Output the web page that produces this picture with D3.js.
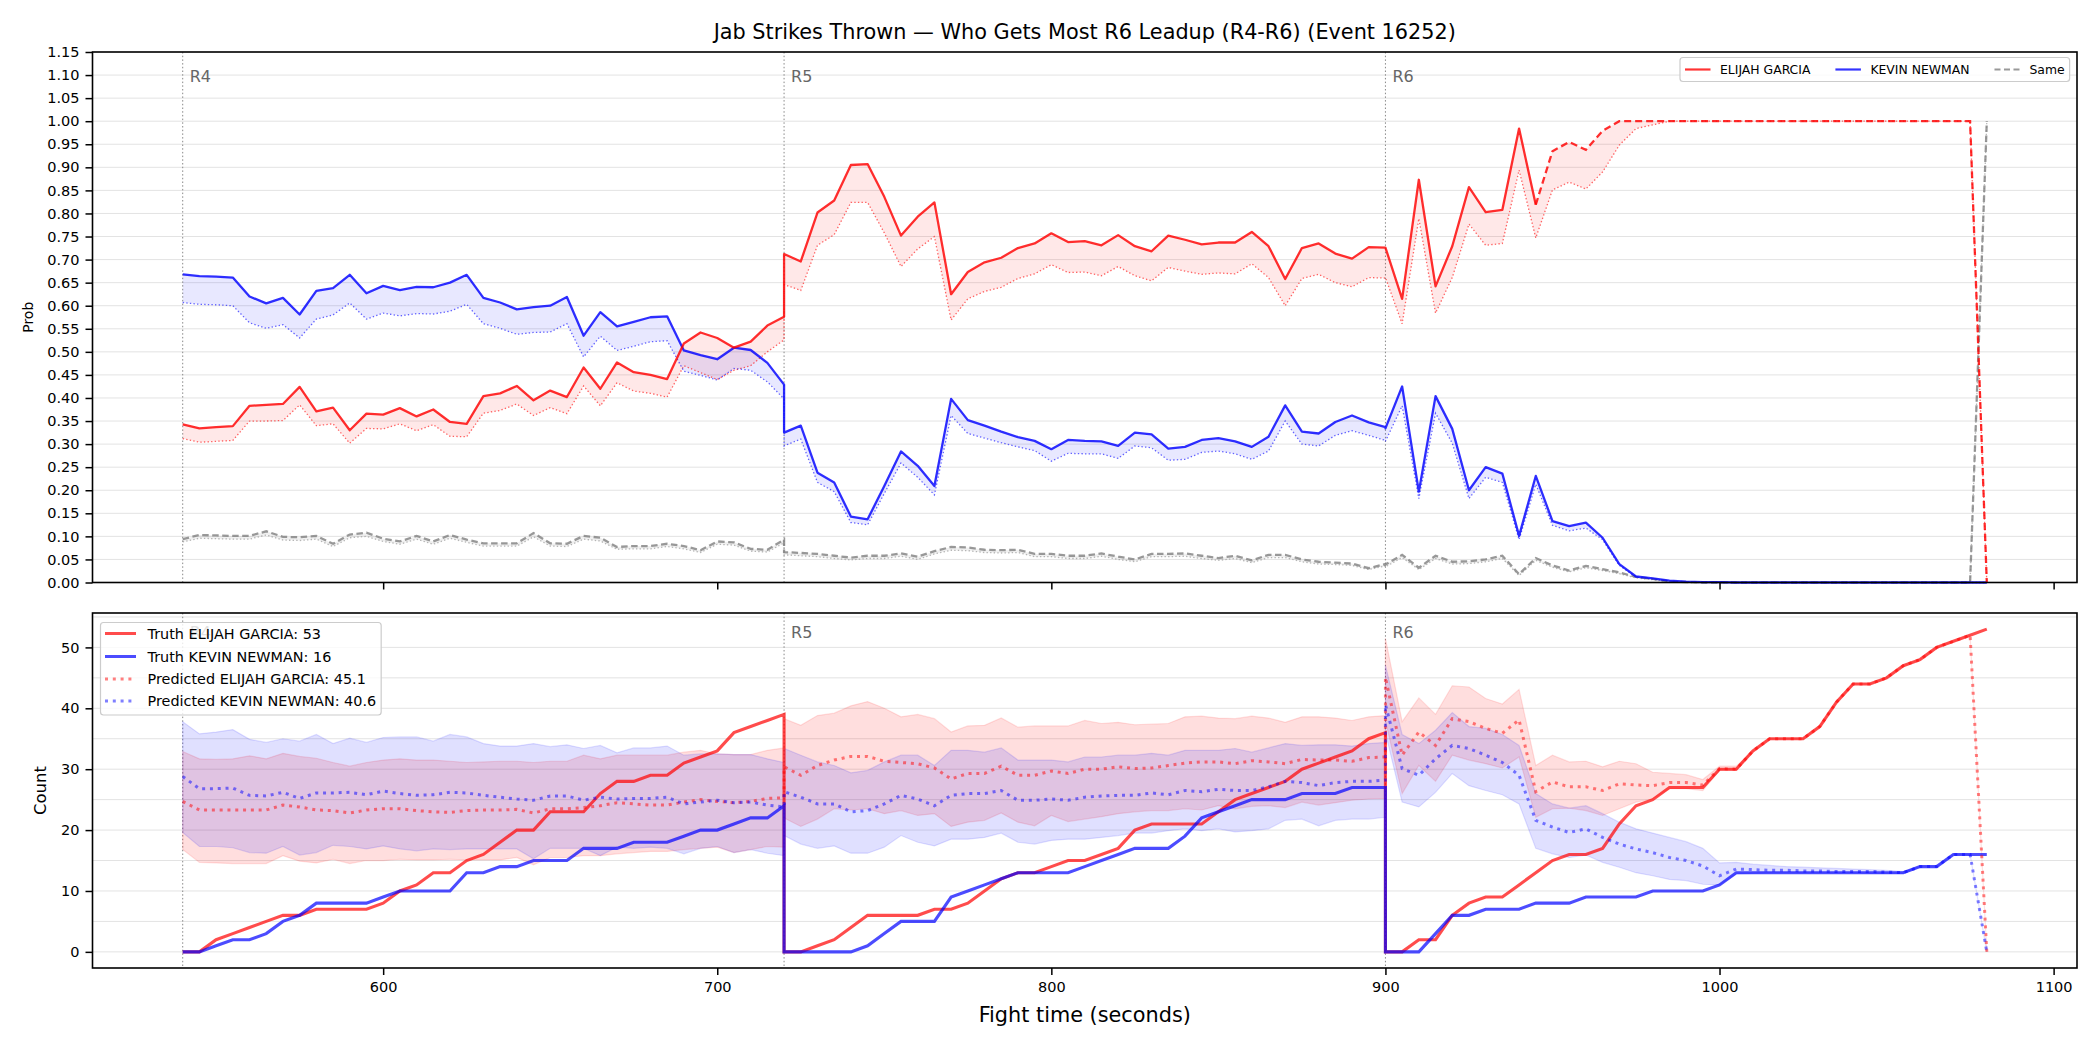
<!DOCTYPE html>
<html><head><meta charset="utf-8">
<script src="https://cdn.jsdelivr.net/npm/d3@7"></script>
<style>body{margin:0;background:#fff} svg{display:block} text{font-family:"DejaVu Sans",sans-serif}</style>
</head><body>
<svg id="c" width="2100" height="1050"></svg>
<script>
// ---------------- DATA ----------------
const tR4 = d3.range(540, 721, 5);
const tR5 = d3.range(720, 901, 5);
const tR6 = d3.range(900, 1081, 5);
const roundTimes = [540, 720, 900];
const roundLabels = ["R4", "R5", "R6"];
const fighters = ["ELIJAH GARCIA", "KEVIN NEWMAN"];
const finalTruth = [53, 16];
const finalPred = [45.1, 40.6];
const xTicks = [600, 700, 800, 900, 1000, 1100];
const dashFrom = 945; // Elijah probability drawn dashed from here in R6

// Top panel: win probability (solid) and lower estimate (dotted)
const probE_R4 = [0.343,0.334,0.337,0.339,0.383,0.385,0.387,0.424,0.371,0.379,0.330,0.366,0.364,0.378,0.360,0.375,0.348,0.344,0.404,0.410,0.426,0.395,0.416,0.402,0.466,0.420,0.477,0.456,0.450,0.441,0.518,0.542,0.530,0.509,0.522,0.557,0.576];
const probE_R5 = [0.712,0.696,0.802,0.828,0.905,0.907,0.836,0.752,0.793,0.824,0.625,0.673,0.694,0.704,0.725,0.735,0.757,0.738,0.740,0.731,0.753,0.729,0.718,0.752,0.743,0.733,0.737,0.737,0.760,0.729,0.658,0.725,0.735,0.713,0.702,0.727,0.726];
const probE_R6 = [0.726,0.615,0.873,0.642,0.729,0.857,0.803,0.808,0.984,0.819,0.935,0.955,0.938,0.979,1,1,1,1,1,1,1,1,1,1,1,1,1,1,1,1,1,1,1,1,1,1,0];
const probElo_R4 = [0.312,0.304,0.306,0.308,0.350,0.350,0.351,0.385,0.340,0.344,0.302,0.334,0.333,0.344,0.329,0.342,0.317,0.316,0.367,0.373,0.387,0.362,0.379,0.366,0.426,0.383,0.433,0.415,0.410,0.402,0.470,0.455,0.440,0.460,0.470,0.500,0.526];
const probElo_R5 = [0.646,0.633,0.731,0.754,0.824,0.824,0.758,0.685,0.723,0.750,0.569,0.615,0.631,0.640,0.659,0.669,0.689,0.672,0.673,0.665,0.685,0.665,0.654,0.683,0.675,0.668,0.671,0.669,0.691,0.661,0.600,0.659,0.668,0.650,0.641,0.661,0.660];
const probElo_R6 = [0.661,0.561,0.789,0.584,0.661,0.777,0.731,0.735,0.894,0.747,0.851,0.868,0.853,0.890,0.948,0.984,0.992,1,1,1,1,1,1,1,1,1,1,1,1,1,1,1,1,1,1,1,0];
const probK_R4 = [0.668,0.664,0.663,0.661,0.620,0.605,0.617,0.581,0.632,0.638,0.667,0.627,0.643,0.634,0.641,0.640,0.650,0.667,0.617,0.607,0.592,0.597,0.600,0.619,0.535,0.586,0.555,0.565,0.575,0.577,0.503,0.493,0.484,0.509,0.504,0.476,0.429];
const probK_R5 = [0.325,0.340,0.238,0.217,0.143,0.137,0.209,0.284,0.253,0.209,0.398,0.352,0.340,0.327,0.315,0.307,0.289,0.309,0.307,0.306,0.296,0.325,0.321,0.290,0.294,0.309,0.313,0.306,0.294,0.316,0.384,0.327,0.323,0.348,0.362,0.347,0.337];
const probK_R6 = [0.334,0.425,0.197,0.404,0.333,0.200,0.250,0.236,0.101,0.231,0.133,0.122,0.130,0.097,0.040,0.013,0.009,0.004,0.002,0.001,0.001,0,0,0,0,0,0,0,0,0,0,0,0,0,0,0,0];
const probKlo_R4 = [0.607,0.603,0.602,0.600,0.563,0.551,0.559,0.530,0.571,0.580,0.606,0.571,0.584,0.578,0.583,0.582,0.588,0.603,0.561,0.551,0.538,0.542,0.543,0.561,0.489,0.534,0.503,0.512,0.522,0.524,0.458,0.449,0.439,0.464,0.460,0.435,0.398];
const probKlo_R5 = [0.296,0.311,0.217,0.197,0.130,0.125,0.193,0.259,0.228,0.190,0.362,0.323,0.313,0.303,0.294,0.286,0.263,0.280,0.279,0.279,0.269,0.296,0.292,0.265,0.267,0.282,0.285,0.279,0.267,0.285,0.350,0.300,0.296,0.319,0.329,0.319,0.308];
const probKlo_R6 = [0.306,0.383,0.182,0.367,0.302,0.182,0.228,0.217,0.093,0.213,0.124,0.112,0.118,0.093,0.037,0.012,0.007,0.003,0.001,0.001,0,0,0,0,0,0,0,0,0,0,0,0,0,0,0,0,0];
const probS_R4 = [0.094,0.103,0.102,0.101,0.101,0.111,0.099,0.098,0.101,0.084,0.104,0.108,0.095,0.089,0.101,0.089,0.103,0.093,0.085,0.085,0.085,0.107,0.085,0.084,0.101,0.097,0.077,0.079,0.079,0.084,0.079,0.070,0.089,0.087,0.073,0.071,0.093];
const probS_R5 = [0.066,0.064,0.062,0.058,0.054,0.058,0.058,0.063,0.056,0.068,0.077,0.076,0.071,0.070,0.071,0.062,0.062,0.058,0.058,0.063,0.056,0.050,0.062,0.062,0.063,0.058,0.053,0.058,0.048,0.060,0.060,0.050,0.045,0.043,0.041,0.031,0.040];
const probS_R6 = [0.039,0.060,0.032,0.058,0.045,0.046,0.050,0.058,0.018,0.053,0.037,0.026,0.036,0.029,0.022,0.012,0.008,0.002,0.001,0,0,0,0,0,0,0,0,0,0,0,0,0,0,0,0,0,1];
const probSlo_R4 = [0.088,0.096,0.095,0.094,0.094,0.103,0.092,0.091,0.094,0.078,0.097,0.100,0.089,0.083,0.094,0.083,0.096,0.087,0.079,0.079,0.079,0.099,0.079,0.078,0.094,0.090,0.072,0.073,0.073,0.078,0.073,0.065,0.083,0.081,0.068,0.066,0.086];
const probSlo_R5 = [0.060,0.058,0.056,0.052,0.049,0.052,0.052,0.057,0.050,0.062,0.070,0.069,0.065,0.064,0.065,0.056,0.056,0.052,0.052,0.057,0.050,0.045,0.056,0.056,0.057,0.052,0.048,0.052,0.043,0.054,0.054,0.045,0.040,0.039,0.037,0.028,0.036];
const probSlo_R6 = [0.034,0.054,0.028,0.052,0.040,0.041,0.045,0.052,0.015,0.048,0.033,0.023,0.032,0.026,0.019,0.010,0.006,0.001,0,0,0,0,0,0,0,0,0,0,0,0,0,0,0,0,0,0,1];

// Bottom panel: cumulative counts
const truthE_R4 = [0,0,2,3,4,5,6,6,7,7,7,7,8,10,11,13,13,15,16,18,20,20,23,23,23,26,28,28,29,29,31,32,33,36,37,38,39];
const truthE_R5 = [0,0,1,2,4,6,6,6,6,7,7,8,10,12,13,13,14,15,15,16,17,20,21,21,21,21,23,25,26,27,28,30,31,32,33,35,36];
const truthE_R6 = [0,0,2,2,6,8,9,9,11,13,15,16,16,17,21,24,25,27,27,27,30,30,33,35,35,35,37,41,44,44,45,47,48,50,51,52,53];
const truthK_R4 = [0,0,1,2,2,3,5,6,8,8,8,8,9,10,10,10,10,13,13,14,14,15,15,15,17,17,17,18,18,18,19,20,20,21,22,22,24];
const truthK_R5 = [0,0,0,0,0,1,3,5,5,5,9,10,11,12,13,13,13,13,14,15,16,17,17,17,19,22,23,24,25,25,25,26,26,26,27,27,27];
const truthK_R6 = [0,0,0,3,6,6,7,7,7,8,8,8,9,9,9,9,10,10,10,10,11,13,13,13,13,13,13,13,13,13,13,13,14,14,16,16,16];
const predE_R4 = [24.7,23.3,23.3,23.3,23.3,23.3,24.1,23.8,23.3,23.2,22.8,23.3,23.5,23.5,23.2,23.0,22.9,23.2,23.3,23.3,23.4,22.8,23.5,23.5,23.7,24.0,24.5,24.3,24.1,24.1,24.6,25.0,24.7,24.5,24.7,25.2,25.3];
const predE_R5 = [30.4,29.0,30.6,31.5,32.1,32.1,31.3,31.1,30.9,30.2,28.4,29.3,29.3,30.5,29.0,29.0,29.7,29.3,30.0,30.0,30.4,30.1,30.2,30.6,31.0,31.2,31.2,30.9,31.4,31.2,30.9,31.6,31.5,31.5,31.3,31.9,32.0];
const predE_R6 = [45.1,32.3,36.1,33.9,38.3,37.8,36.7,35.9,38.1,26.3,27.9,27.1,27.1,26.5,27.6,27.4,27.3,27.8,27.8,27.4,30.1,30.0,33,35,35,35,37,41,44,44,45,47,48,50,51,52,0];
const predK_R4 = [28.8,26.8,26.8,26.9,25.7,25.6,26.2,25.2,26.1,26.1,26.2,25.8,26.4,26.0,25.7,25.8,26.2,26.1,25.7,25.4,25.1,24.9,25.6,25.6,24.9,25.4,25.1,25.2,25.2,25.4,24.3,24.6,24.9,24.5,24.6,24.1,23.8];
const predK_R5 = [26.3,25.4,24.3,24.3,23.0,23.2,24.3,25.7,25.1,24.0,25.7,26.0,26.0,26.5,24.9,24.9,25.1,24.9,25.4,25.6,25.7,25.7,26.1,25.8,26.5,26.3,26.7,26.5,26.5,27.1,28.0,27.8,27.3,27.8,28.0,28.0,28.2];
const predK_R6 = [40.6,30.1,29.0,31.7,33.9,33.4,32.3,31.1,29.0,21.6,20.5,19.6,20.2,18.8,17.7,16.9,16.3,15.5,15.0,14.1,12.5,13.6,13.5,13.4,13.4,13.3,13.3,13.2,13.2,13.2,13.1,13.0,14,14,16,16,0];
const predEhi_R4 = [32.9,31.7,31.6,31.7,32.2,31.7,32.6,32.1,31.8,31.1,30.5,31.1,31.5,31.7,31.5,31.5,31.3,31.1,31.2,31.3,31.3,31.1,31.3,31.3,32.3,31.7,32.3,32.3,32.3,32.3,32.8,33.1,32.5,32.4,32.4,33.1,33.5];
const predEhi_R5 = [38.3,37.2,38.8,39.2,40.4,41.1,40.0,38.6,39.0,38.3,36.1,37.1,37.2,38.4,36.9,37.1,37.1,37.1,38.0,37.5,37.7,37.3,37.4,37.5,38.6,38.7,38.4,38.3,38.7,38.4,37.7,38.6,38.6,38.4,38.0,38.6,38.8];
const predEhi_R6 = [51.5,37.8,41.7,39.0,43.7,43.5,41.6,40.7,43.1,30.6,32.3,31.2,31.3,30.4,31.3,30.9,29.5,29.3,29.1,28.3,30.5,30.5,33,35,35,35,37,41,44,44,45,47,48,50,51,52,0];
const predElo_R4 = [16.8,14.7,14.6,14.5,14.5,14.5,15.8,14.9,14.6,15.2,14.5,15.0,15.0,15.2,15.1,15.1,15.2,15.1,15.1,15.1,15.5,14.3,15.5,15.5,15.8,15.8,16.1,16.3,16.5,16.5,16.8,17.0,17.2,16.3,16.8,17.3,17.2];
const predElo_R5 = [22.0,20.6,21.8,23.5,23.3,23.5,22.7,23.2,22.4,22.7,20.6,21.3,21.6,22.8,21.3,20.7,22.4,21.4,21.8,22.2,22.7,23.0,23.2,23.2,23.5,23.3,24.0,23.5,23.9,24.0,23.7,24.6,24.1,24.5,24.9,25.1,25.2];
const predElo_R6 = [38.0,26.0,30.6,28.0,32.3,31.5,30.9,30.2,32.0,22.1,23.5,23.6,23.2,22.4,23.5,24.6,25.1,26.8,26.8,26.5,29.8,29.8,33,35,35,35,37,41,44,44,45,47,48,50,51,52,0];
const predKhi_R4 = [37.8,35.8,36.1,36.5,34.9,34.4,35.0,34.6,35.7,34.2,35.1,34.4,35.2,35.3,35.3,34.6,35.7,35.3,34.2,33.8,33.8,34.2,33.7,34.0,33.4,33.9,32.7,33.5,33.5,33.8,32.3,32.5,32.5,32.4,32.4,31.7,31.1];
const predKhi_R5 = [33.4,32.3,31.2,30.6,29.4,29.8,31.2,32.3,32.3,30.6,33.1,33.1,32.8,33.5,31.5,31.5,31.5,31.2,32.0,32.0,32.3,32.3,32.6,32.3,33.1,33.1,33.1,33.4,32.8,33.5,34.2,33.9,34.0,34.0,33.8,34.2,34.4];
const predKhi_R6 = [47.1,35.7,34.2,36.4,39.3,37.0,36.7,35.7,33.9,26.0,24.3,23.6,24.0,22.7,21.3,20.2,19.5,18.8,18.1,17.0,14.6,14.7,14.4,14.2,14.0,13.9,13.8,13.7,13.6,13.5,13.4,13.2,14,14,16,16,0];
const predKlo_R4 = [19.6,17.3,17.3,17.1,16.3,16.2,17.3,15.9,16.3,17.5,17.3,16.9,17.4,16.9,16.6,16.9,16.8,16.9,16.9,16.9,16.9,15.3,17.0,17.0,17.0,15.8,17.2,17.0,17.2,17.0,16.1,17.0,17.3,16.3,16.8,16.2,15.8];
const predKlo_R5 = [19.1,17.7,17.0,17.4,16.2,16.2,17.2,19.1,18.0,17.4,18.5,18.5,18.8,19.5,18.0,17.7,18.3,18.5,18.5,18.8,19.1,19.5,19.5,19.9,20.2,19.9,20.2,19.7,19.9,20.2,21.6,21.8,20.7,21.6,21.8,21.8,22.1];
const predKlo_R6 = [36.0,24.6,23.8,26.2,29.3,27.3,26.5,25.8,24.3,17.0,16.1,15.5,15.9,14.7,13.9,13.0,12.5,11.9,11.7,11.1,11.0,12.8,12.9,13.0,13.0,13.0,13.0,13.0,13.0,12.9,12.9,12.9,14,14,16,16,0];

// ---------------- CHART ----------------
const cat = (a, b, c) => a.concat(b, c);
const times = cat(tR4, tR5, tR6);
const P = {
  E: cat(probE_R4, probE_R5, probE_R6), Elo: cat(probElo_R4, probElo_R5, probElo_R6),
  K: cat(probK_R4, probK_R5, probK_R6), Klo: cat(probKlo_R4, probKlo_R5, probKlo_R6),
  S: cat(probS_R4, probS_R5, probS_R6), Slo: cat(probSlo_R4, probSlo_R5, probSlo_R6)
};
const C = {
  tE: cat(truthE_R4, truthE_R5, truthE_R6), tK: cat(truthK_R4, truthK_R5, truthK_R6),
  pE: cat(predE_R4, predE_R5, predE_R6), pK: cat(predK_R4, predK_R5, predK_R6),
  eHi: cat(predEhi_R4, predEhi_R5, predEhi_R6), eLo: cat(predElo_R4, predElo_R5, predElo_R6),
  kHi: cat(predKhi_R4, predKhi_R5, predKhi_R6), kLo: cat(predKlo_R4, predKlo_R5, predKlo_R6)
};

const L = 92.5, R = 2077, tY0 = 52, tY1 = 582.5, bY0 = 613, bY1 = 968;
const RED = "#ff0000", BLUE = "#0000ff", GRAY = "#808080";
const x = d3.scaleLinear().domain([513, 1107]).range([L, R]);
const yT = d3.scaleLinear().domain([0, 1.15]).range([tY1, tY0]);
const yB = d3.scaleLinear().domain([-2.65, 55.65]).range([bY1, bY0]);
const svg = d3.select("#c");
const FONT = "DejaVu Sans";

svg.append("rect").attr("width", 2100).attr("height", 1050).attr("fill", "#fff");

function grid(g, y, vals) {
  g.selectAll(null).data(vals).join("line")
    .attr("x1", L).attr("x2", R).attr("y1", d => y(d)).attr("y2", d => y(d))
    .attr("stroke", "#e3e3e3").attr("stroke-width", 1);
}
function roundLines(g, y0, y1) {
  g.selectAll(null).data(roundTimes).join("line")
    .attr("x1", d => x(d)).attr("x2", d => x(d)).attr("y1", y0).attr("y2", y1)
    .attr("stroke", "#888").attr("stroke-width", 1).attr("stroke-dasharray", "1.5,2.2");
}
function roundText(g, yText, which) {
  g.selectAll(null).data(which).join("text")
    .attr("x", i => x(roundTimes[i]) + 7).attr("y", yText)
    .attr("font-size", 16).attr("fill", "#666").attr("font-family", FONT)
    .text(i => roundLabels[i]);
}
const idx = d3.range(times.length);
function lineGen(y, arr) {
  return d3.line().x(i => x(times[i])).y(i => y(arr[i]));
}
function areaGen(y, a, b) {
  return d3.area().x(i => x(times[i])).y0(i => y(a[i])).y1(i => y(b[i]));
}

// ---------- TOP PANEL ----------
const gt = svg.append("g");
const topTicks = d3.range(0, 24).map(i => +(i * 0.05).toFixed(2));
grid(gt, yT, topTicks);
roundLines(gt, tY0, tY1);
roundText(gt, 81.5, [0, 1, 2]);

gt.append("path").attr("d", areaGen(yT, P.Elo, P.E)(idx)).attr("fill", RED).attr("fill-opacity", 0.09);
gt.append("path").attr("d", areaGen(yT, P.Klo, P.K)(idx)).attr("fill", BLUE).attr("fill-opacity", 0.09);
gt.append("path").attr("d", areaGen(yT, P.Slo, P.S)(idx)).attr("fill", GRAY).attr("fill-opacity", 0.12);

const dotted = (arr, col, op) => gt.append("path").attr("d", lineGen(yT, arr)(idx)).attr("fill", "none")
  .attr("stroke", col).attr("stroke-width", 1.3).attr("stroke-dasharray", "1.4,2.2").attr("stroke-opacity", op);
dotted(P.Elo, RED, 0.6); dotted(P.Klo, BLUE, 0.6); dotted(P.Slo, "#999", 0.7);

const iDash = times.findIndex((t, i) => i >= tR4.length + tR5.length && t >= dashFrom);
const idxSolid = idx.filter(i => i <= iDash), idxDash = idx.filter(i => i >= iDash);
gt.append("path").attr("d", lineGen(yT, P.S)(idx)).attr("fill", "none")
  .attr("stroke", GRAY).attr("stroke-width", 2.3).attr("stroke-dasharray", "6.5,3.5").attr("stroke-opacity", 0.8);
gt.append("path").attr("d", lineGen(yT, P.K)(idx)).attr("fill", "none")
  .attr("stroke", BLUE).attr("stroke-width", 2.3).attr("stroke-opacity", 0.82).attr("stroke-linejoin", "round");
gt.append("path").attr("d", lineGen(yT, P.E)(idxSolid)).attr("fill", "none")
  .attr("stroke", RED).attr("stroke-width", 2.3).attr("stroke-opacity", 0.82).attr("stroke-linejoin", "round");
gt.append("path").attr("d", lineGen(yT, P.E)(idxDash)).attr("fill", "none")
  .attr("stroke", RED).attr("stroke-width", 2.3).attr("stroke-opacity", 0.82).attr("stroke-dasharray", "7,4");

// ---------- BOTTOM PANEL ----------
const gb = svg.append("g");
grid(gb, yB, d3.range(0, 56, 5));
roundLines(gb, bY0, bY1);
roundText(gb, 638, [0, 1, 2]);

gb.append("path").attr("d", areaGen(yB, C.eLo, C.eHi)(idx)).attr("fill", RED).attr("fill-opacity", 0.13)
  .attr("stroke", RED).attr("stroke-opacity", 0.12).attr("stroke-width", 1.2);
gb.append("path").attr("d", areaGen(yB, C.kLo, C.kHi)(idx)).attr("fill", BLUE).attr("fill-opacity", 0.12)
  .attr("stroke", BLUE).attr("stroke-opacity", 0.12).attr("stroke-width", 1.2);

gb.append("path").attr("d", lineGen(yB, C.tE)(idx)).attr("fill", "none")
  .attr("stroke", RED).attr("stroke-width", 3.1).attr("stroke-opacity", 0.7);
gb.append("path").attr("d", lineGen(yB, C.tK)(idx)).attr("fill", "none")
  .attr("stroke", BLUE).attr("stroke-width", 3.1).attr("stroke-opacity", 0.7);
gb.append("path").attr("d", lineGen(yB, C.pE)(idx)).attr("fill", "none")
  .attr("stroke", RED).attr("stroke-width", 3).attr("stroke-opacity", 0.5).attr("stroke-dasharray", "3,4.8");
gb.append("path").attr("d", lineGen(yB, C.pK)(idx)).attr("fill", "none")
  .attr("stroke", BLUE).attr("stroke-width", 3).attr("stroke-opacity", 0.5).attr("stroke-dasharray", "3,4.8");

// ---------- AXES ----------
function styleAxis(g) {
  g.select(".domain").remove();
  g.selectAll(".tick line").attr("stroke", "#000").attr("stroke-width", 1.5);
  g.selectAll(".tick text").attr("font-family", FONT).attr("font-size", 14.5).attr("fill", "#000");
}
svg.append("g").attr("transform", `translate(${L},0)`)
  .call(d3.axisLeft(yT).tickValues(topTicks).tickFormat(d3.format(".2f")).tickSize(7).tickPadding(6)).call(styleAxis);
svg.append("g").attr("transform", `translate(0,${tY1})`)
  .call(d3.axisBottom(x).tickValues(xTicks).tickFormat("").tickSize(7)).call(styleAxis);
svg.append("g").attr("transform", `translate(${L},0)`)
  .call(d3.axisLeft(yB).tickValues(d3.range(0, 51, 10)).tickFormat(d3.format("d")).tickSize(7).tickPadding(6)).call(styleAxis);
svg.append("g").attr("transform", `translate(0,${bY1})`)
  .call(d3.axisBottom(x).tickValues(xTicks).tickFormat(d3.format("d")).tickSize(7).tickPadding(7)).call(styleAxis);

[[tY0, tY1], [bY0, bY1]].forEach(([a, b]) => {
  svg.append("rect").attr("x", L).attr("y", a).attr("width", R - L).attr("height", b - a)
    .attr("fill", "none").attr("stroke", "#000").attr("stroke-width", 1.6);
});

// titles & labels
svg.append("text").attr("x", (L + R) / 2).attr("y", 38.5).attr("text-anchor", "middle")
  .attr("font-family", FONT).attr("font-size", 20.8).text("Jab Strikes Thrown — Who Gets Most R6 Leadup (R4-R6) (Event 16252)");
svg.append("text").attr("x", (L + R) / 2).attr("y", 1022).attr("text-anchor", "middle")
  .attr("font-family", FONT).attr("font-size", 20.8).text("Fight time (seconds)");
svg.append("text").attr("transform", `translate(33,${(tY0 + tY1) / 2}) rotate(-90)`).attr("text-anchor", "middle")
  .attr("font-family", FONT).attr("font-size", 14).text("Prob");
svg.append("text").attr("transform", `translate(46,${(bY0 + bY1) / 2}) rotate(-90)`).attr("text-anchor", "middle")
  .attr("font-family", FONT).attr("font-size", 16.5).text("Count");

// ---------- LEGENDS ----------
(function () {
  const items = [
    { label: fighters[0], color: RED, dash: null },
    { label: fighters[1], color: BLUE, dash: null },
    { label: "Same", color: GRAY, dash: "6,3.5" }
  ];
  const g = svg.append("g");
  const fs = 12.4, hl = 25.5, pad = 9.5, colSp = 25, yc = 69.5;
  const box = g.append("rect");
  let cx = 1685;
  items.forEach(it => {
    g.append("line").attr("x1", cx).attr("x2", cx + hl).attr("y1", yc).attr("y2", yc)
      .attr("stroke", it.color).attr("stroke-width", 2.2).attr("stroke-opacity", 0.8)
      .attr("stroke-dasharray", it.dash);
    const t = g.append("text").attr("x", cx + hl + pad).attr("y", yc + 4.5).attr("font-family", FONT)
      .attr("font-size", fs).text(it.label);
    cx = cx + hl + pad + t.node().getComputedTextLength() + colSp;
  });
  const right = cx - colSp + 5;
  box.attr("x", 1680).attr("y", 57.5).attr("width", right - 1680).attr("height", 24).attr("rx", 3)
    .attr("fill", "#fff").attr("fill-opacity", 0.8).attr("stroke", "#ccc").attr("stroke-width", 1.2);
})();

(function () {
  const items = [
    { label: `Truth ${fighters[0]}: ${finalTruth[0]}`, color: RED, dash: null, op: 0.7 },
    { label: `Truth ${fighters[1]}: ${finalTruth[1]}`, color: BLUE, dash: null, op: 0.7 },
    { label: `Predicted ${fighters[0]}: ${finalPred[0]}`, color: RED, dash: "3,4.8", op: 0.5 },
    { label: `Predicted ${fighters[1]}: ${finalPred[1]}`, color: BLUE, dash: "3,4.8", op: 0.5 }
  ];
  const g = svg.append("g");
  const box = g.append("rect");
  const fs = 14.4, x0 = 105, hl = 31, tx = 147.5, rowY = [633.5, 656.5, 679, 701];
  let maxR = 0;
  items.forEach((it, i) => {
    g.append("line").attr("x1", x0).attr("x2", x0 + hl).attr("y1", rowY[i]).attr("y2", rowY[i])
      .attr("stroke", it.color).attr("stroke-width", 3).attr("stroke-opacity", it.op)
      .attr("stroke-dasharray", it.dash);
    const t = g.append("text").attr("x", tx).attr("y", rowY[i] + 5.2).attr("font-family", FONT)
      .attr("font-size", fs).text(it.label);
    maxR = Math.max(maxR, tx + t.node().getComputedTextLength());
  });
  box.attr("x", 100.5).attr("y", 622.5).attr("width", maxR + 5 - 100.5).attr("height", 92.5).attr("rx", 3)
    .attr("fill", "#fff").attr("fill-opacity", 0.8).attr("stroke", "#ccc").attr("stroke-width", 1.2);
})();
</script></body></html>
